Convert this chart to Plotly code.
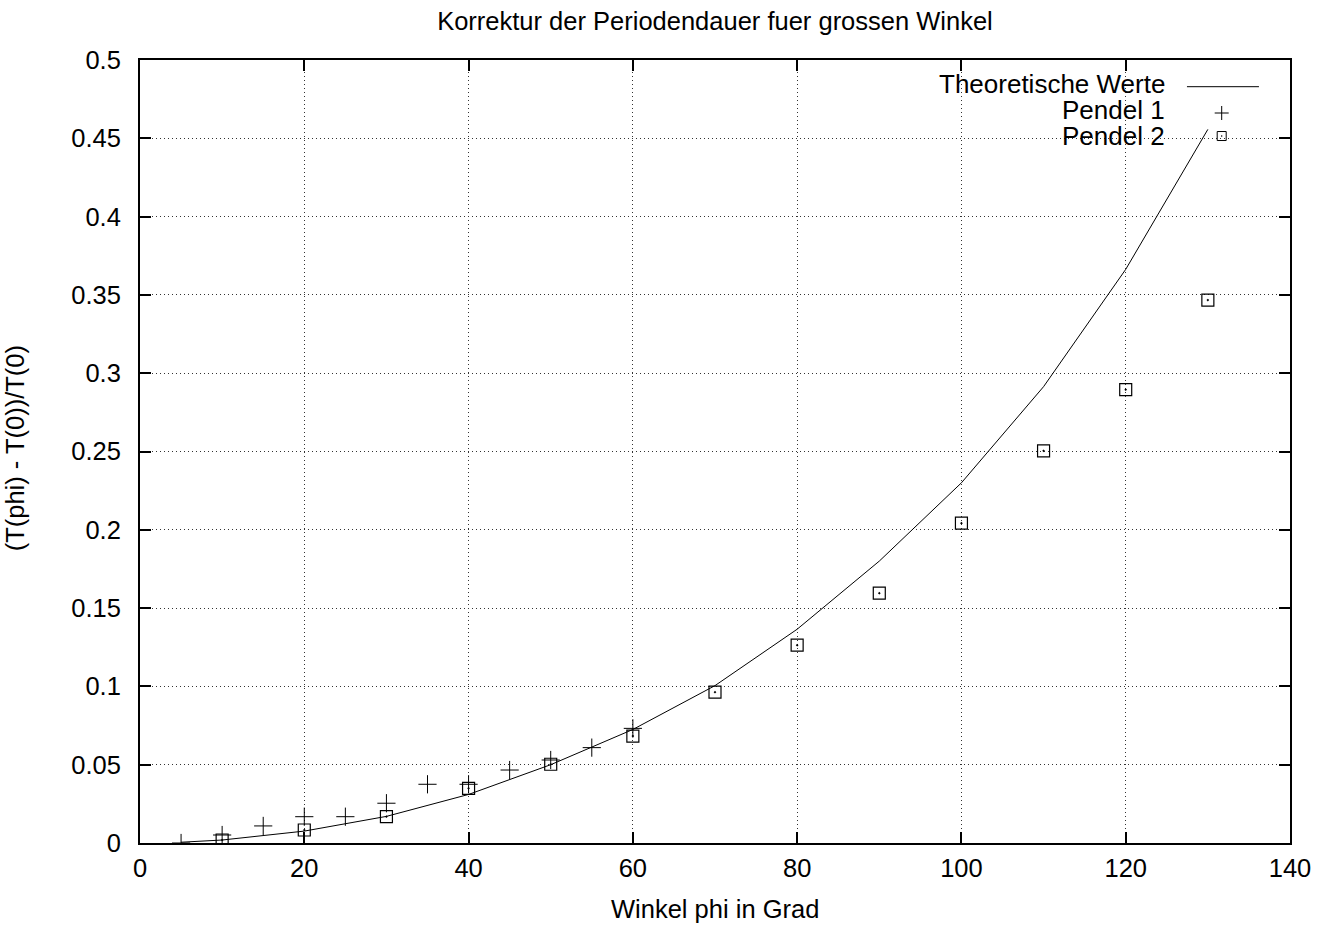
import plotly.graph_objects as go

# Theoretical curve
theo_x = [5, 10, 20, 30, 40, 50, 60, 70, 80, 90, 100, 110, 120, 130]
theo_y = [0.0005, 0.0019, 0.0076, 0.0170, 0.0310, 0.0500, 0.0725, 0.1005,
          0.1365, 0.1800, 0.2300, 0.2914, 0.3663, 0.4557]

# Pendel 1
p1_x = [5, 10, 15, 20, 25, 30, 35, 40, 45, 50, 55, 60]
p1_y = [0.0, 0.0051, 0.0109, 0.0168, 0.0168, 0.0254, 0.0375, 0.0375,
        0.0466, 0.0530, 0.0609, 0.0732]

# Pendel 2
p2_x = [10, 20, 30, 40, 50, 60, 70, 80, 90, 100, 110, 120, 130]
p2_y = [0.0019, 0.0083, 0.0168, 0.0349, 0.0503, 0.0683, 0.0963, 0.1263,
        0.1595, 0.2042, 0.2504, 0.2895, 0.3467]

x_ticks = [0, 20, 40, 60, 80, 100, 120, 140]
y_ticks = [0, 0.05, 0.1, 0.15, 0.2, 0.25, 0.3, 0.35, 0.4, 0.45, 0.5]
y_tick_labels = ["0", "0.05", "0.1", "0.15", "0.2", "0.25", "0.3", "0.35", "0.4", "0.45", "0.5"]

legend_names = ["Theoretische Werte", "Pendel 1", "Pendel 2"]
x_title = "Winkel phi in Grad"
y_title = "(T(phi) - T(0))/T(0)"
main_title = "Korrektur der Periodendauer fuer grossen Winkel"

FONT = "Liberation Sans, Arial, Helvetica, sans-serif"
FS = 25.5

fig = go.Figure()
fig.add_trace(go.Scatter(x=theo_x, y=theo_y, mode="lines", name=legend_names[0],
                         line=dict(color="black", width=1), showlegend=False))
fig.add_trace(go.Scatter(x=p1_x, y=p1_y, mode="markers", name=legend_names[1],
                         marker=dict(symbol="cross-thin-open", size=13, color="black",
                                     line=dict(color="black", width=1)),
                         showlegend=False))
fig.add_trace(go.Scatter(x=p2_x, y=p2_y, mode="markers", name=legend_names[2],
                         marker=dict(symbol="square-open-dot", size=12, color="black",
                                     line=dict(color="black", width=1.2)),
                         showlegend=False))

# Legend key (gnuplot style: text right-aligned, sample on the right)
leg_text_y = [0.9693, 0.9361, 0.9029]
leg_text_x = 0.893
fig.add_trace(go.Scatter(x=[0.9406], y=[0.9323], xaxis="x2", yaxis="y2", mode="markers",
                         marker=dict(symbol="cross-thin-open", size=10, color="black",
                                     line=dict(color="black", width=1)),
                         showlegend=False, hoverinfo="skip"))
fig.add_trace(go.Scatter(x=[0.9406], y=[0.9029], xaxis="x2", yaxis="y2", mode="markers",
                         marker=dict(symbol="square-open-dot", size=9, color="black",
                                     line=dict(color="black", width=1)),
                         showlegend=False, hoverinfo="skip"))

shapes = [
    dict(type="rect", xref="paper", yref="paper", x0=0.650, x1=1.0, y0=0.885, y1=1.0,
         fillcolor="white", line=dict(width=0), layer="between"),
    dict(type="line", xref="paper", yref="paper", x0=0.9104, x1=0.973,
         y0=0.9659, y1=0.9659, line=dict(color="black", width=1)),
]
annotations = []
for name, yy in zip(legend_names, leg_text_y):
    annotations.append(dict(text=name, xref="paper", yref="paper", x=leg_text_x, y=yy,
                            xanchor="right", yanchor="middle", showarrow=False,
                            font=dict(family=FONT, size=26, color="black")))
# axis titles
annotations.append(dict(text=x_title, xref="paper", yref="paper", x=0.5, y=-0.0845,
                        xanchor="center", yanchor="middle", showarrow=False,
                        font=dict(family=FONT, size=FS, color="black")))
annotations.append(dict(text=y_title, xref="paper", yref="paper", x=-0.1087, y=0.504,
                        xanchor="center", yanchor="middle", showarrow=False, textangle=-90,
                        font=dict(family=FONT, size=FS, color="black")))

axis_common = dict(
    showline=True, linecolor="black", linewidth=2, mirror="ticks",
    ticks="inside", ticklen=11, tickwidth=2, tickcolor="black",
    showgrid=True, gridcolor="#333", gridwidth=1, griddash="1px,3px",
    zeroline=False, tickfont=dict(family=FONT, size=FS, color="black"),
)

fig.update_layout(
    width=1325, height=930,
    paper_bgcolor="white", plot_bgcolor="white",
    margin=dict(l=140, r=35, t=60, b=87),
    title=dict(text=main_title, x=0.5396, xanchor="center", y=0.9772, yanchor="middle",
               font=dict(family=FONT, size=FS, color="black")),
    xaxis=dict(range=[0, 140], tickvals=x_ticks, ticklabelstandoff=1, **axis_common),
    yaxis=dict(range=[0, 0.5], tickvals=y_ticks, ticktext=y_tick_labels,
               ticklabelstandoff=12, **axis_common),
    xaxis2=dict(range=[0, 1], overlaying="x", visible=False, fixedrange=True),
    yaxis2=dict(range=[0, 1], overlaying="y", visible=False, fixedrange=True),
    shapes=shapes,
    annotations=annotations,
    showlegend=False,
)

fig.write_html("out.html", config={"displayModeBar": False},
               post_script="document.body.style.margin='0';")
